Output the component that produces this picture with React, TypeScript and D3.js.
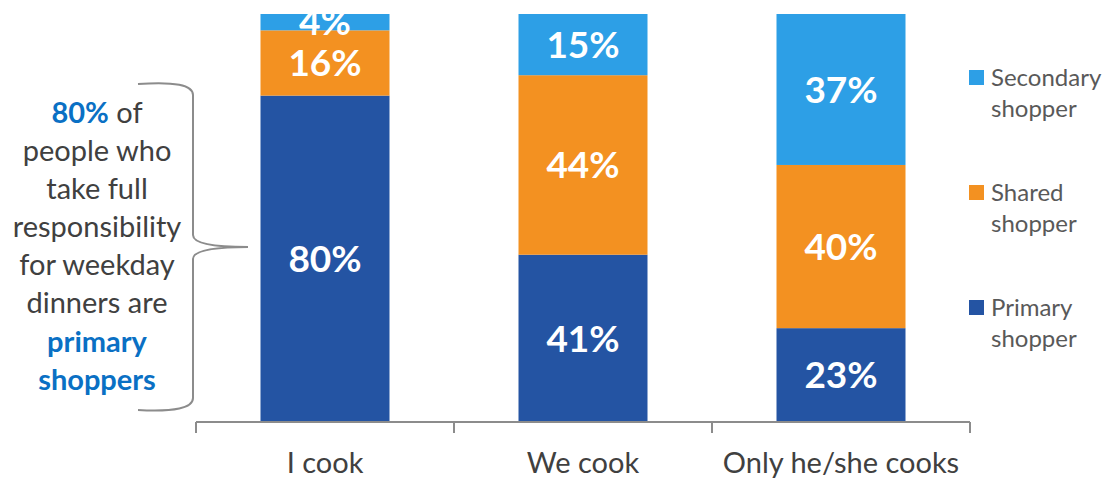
import React from "react";
import * as d3 from "d3";

const categories = ["I cook", "We cook", "Only he/she cooks"];
const seriesNames = ["Primary shopper", "Shared shopper", "Secondary shopper"];
const primary = [80, 41, 23];
const shared = [16, 44, 40];
const secondary = [4, 15, 37];
const colors = ["#2454A3", "#F39121", "#2D9FE6"];
const legendLines = [["Secondary", "shopper"], ["Shared", "shopper"], ["Primary", "shopper"]];
const legendColors = ["#2D9FE6", "#F39121", "#2454A3"];
const noteLines = ["of", "people who", "take full", "responsibility", "for weekday", "dinners are"];

const W = 1105, H = 479;
const FONT = "Lato, 'Open Sans', sans-serif";

export default function App() {
  const x = d3.scaleBand<string>().domain(categories).range([196, 970]).paddingInner(0.5).paddingOuter(0.25);
  const y = d3.scaleLinear().domain([0, 100]).range([422, 14]);
  const rows = categories.map((c, i) => ({ cat: c, p: primary[i], s: shared[i], t: secondary[i] }));
  const stack = d3.stack<any>().keys(["p", "s", "t"])(rows);
  const ticks = [196, 454, 712, 970];
  const bw = x.bandwidth();
  return (
    <svg width={W} height={H} style={{ position: "absolute", left: 0, top: 0, fontFamily: FONT }}>
      {stack.map((layer, li) =>
        layer.map((d, i) => {
          const y0 = y(d[0]), y1 = y(d[1]);
          const val = d[1] - d[0];
          const cx = (x(categories[i]) as number) + bw / 2;
          return (
            <g key={li + "-" + i}>
              <rect x={x(categories[i])} y={y1} width={bw} height={y0 - y1} fill={colors[li]} />
              <text x={cx} y={(y0 + y1) / 2} dy="0.36em" textAnchor="middle" fill="#fff"
                fontWeight={700} fontSize={37}>{val + "%"}</text>
            </g>
          );
        })
      )}
      <line x1={196} x2={970} y1={422} y2={422} stroke="#8c8c8c" strokeWidth={2} />
      {ticks.map((t) => (
        <line key={t} x1={t} x2={t} y1={422} y2={433} stroke="#8c8c8c" strokeWidth={2} />
      ))}
      {categories.map((c) => (
        <text key={c} x={(x(c) as number) + bw / 2} y={473} textAnchor="middle" fontSize={29} fill="#404040">{c}</text>
      ))}
      {legendLines.map((ln, i) => (
        <g key={i}>
          <rect x={969} y={70 + i * 115} width={15} height={15} fill={legendColors[i]} />
          <text x={991} y={86 + i * 115} fontSize={24} fill="#595959">{ln[0]}</text>
          <text x={991} y={117 + i * 115} fontSize={24} fill="#595959">{ln[1]}</text>
        </g>
      ))}
      <path d="M138,84 Q193,80 193,95 L193,235 Q193,247 248,247 Q193,247 193,259 L193,398 Q193,413 138,410"
        fill="none" stroke="#8c8c8c" strokeWidth={2} />
      <text x={97} y={123} textAnchor="middle" fontSize={29} fill="#404040">
        <tspan fill="#0A70C4" fontWeight={700}>80%</tspan> {noteLines[0]}
      </text>
      {noteLines.slice(1).map((l, i) => (
        <text key={l} x={97} y={161 + i * 38} textAnchor="middle" fontSize={29} fill="#404040">{l}</text>
      ))}
      <text x={97} y={352} textAnchor="middle" fontSize={29} fontWeight={700} fill="#0A70C4">primary</text>
      <text x={97} y={390} textAnchor="middle" fontSize={29} fontWeight={700} fill="#0A70C4">shoppers</text>
    </svg>
  );
}
